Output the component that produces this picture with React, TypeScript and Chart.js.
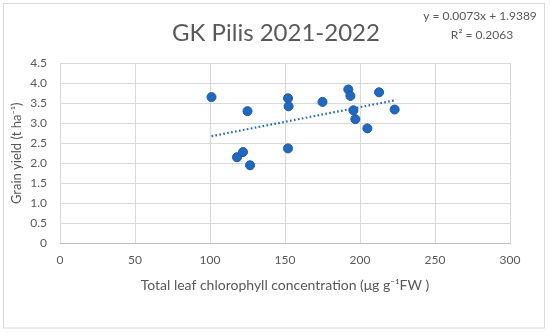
import React, { useEffect, useRef } from "react";
import { Chart, registerables } from "chart.js";

Chart.register(...registerables);

const chlorophyll = [101, 125, 152, 152.4, 118, 122, 126.7, 152, 175, 192.2, 193.6, 195.6, 196.9, 204.9, 212.7, 223.1];
const grainYield = [3.65, 3.3, 3.62, 3.42, 2.15, 2.28, 1.95, 2.37, 3.53, 3.84, 3.68, 3.32, 3.1, 2.87, 3.77, 3.34];
const trendX = [101, 223];
const trendY = [2.676, 3.567];
const titleText = "GK Pilis 2021-2022";
const equationLines = ["y = 0.0073x + 1.9389", "R² = 0.2063"];
const xTitle = "Total leaf chlorophyll concentration (μg g⁻¹FW )";
const yTitle = "Grain yield (t ha⁻¹)";

const FONT = "Lato, 'Open Sans', 'DejaVu Sans', sans-serif";
const GRAY = "#595959";
const BLUE = "#1f69c2";

const decorPlugin = {
  id: "decor",
  beforeDraw(chart: any) {
    const ctx = chart.ctx;
    ctx.save();
    ctx.fillStyle = "#ffffff";
    ctx.fillRect(0, 0, chart.width, chart.height);
    ctx.strokeStyle = "#d9d9d9";
    ctx.lineWidth = 1;
    ctx.strokeRect(3.5, 3.5, 541, 324.5);
    ctx.restore();
  },
  afterDraw(chart: any) {
    const ctx = chart.ctx;
    const area = chart.chartArea;
    ctx.save();
    ctx.fillStyle = GRAY;
    ctx.textAlign = "center";
    ctx.textBaseline = "middle";
    ctx.font = `24px ${FONT}`;
    ctx.fillText(titleText, 276, 33);
    ctx.font = `12px ${FONT}`;
    ctx.fillText(equationLines[0], 480, 16);
    ctx.fillText(equationLines[1], 482, 35);
    ctx.font = `14px ${FONT}`;
    ctx.fillText(xTitle, (area.left + area.right) / 2, 285);
    ctx.font = `13px ${FONT}`;
    ctx.translate(17, (area.top + area.bottom) / 2);
    ctx.rotate(-Math.PI / 2);
    ctx.fillText(yTitle, 0, 0);
    ctx.restore();
  },
};

export default function App() {
  const ref = useRef<HTMLCanvasElement | null>(null);
  useEffect(() => {
    if (!ref.current) return;
    const points = chlorophyll.map((x, i) => ({ x, y: grainYield[i] }));
    const trend = trendX.map((x, i) => ({ x, y: trendY[i] }));
    const chart = new Chart(ref.current, {
      type: "scatter",
      data: {
        datasets: [
          {
            data: points,
            backgroundColor: BLUE,
            borderColor: "#1a5aa8",
            borderWidth: 1,
            pointRadius: 4.5,
          },
          {
            type: "line",
            data: trend,
            borderColor: BLUE,
            borderWidth: 2.2,
            borderDash: [1.6, 2.4],
            borderCapStyle: "butt",
            pointRadius: 0,
            showLine: true,
            fill: false,
          } as any,
        ],
      },
      options: {
        responsive: false,
        animation: false,
        events: [],
        layout: { padding: { top: 63, right: 40, left: 0, bottom: 0 } },
        plugins: {
          legend: { display: false },
          title: { display: false },
          tooltip: { enabled: false },
        },
        scales: {
          x: {
            type: "linear",
            min: 0,
            max: 300,
            afterFit: (s: any) => { s.height = 89.5; },
            ticks: { stepSize: 50, color: GRAY, font: { family: FONT, size: 12 }, padding: 9 },
            grid: { color: "#d9d9d9", lineWidth: 1, drawTicks: false },
            border: { color: "#bfbfbf", width: 1 },
          },
          y: {
            min: 0,
            max: 4.5,
            afterFit: (s: any) => { s.width = 60; },
            ticks: { stepSize: 0.5, color: GRAY, font: { family: FONT, size: 12 }, padding: 13 },
            grid: { color: "#d9d9d9", lineWidth: 1, drawTicks: false },
            border: { display: false },
          },
        },
      },
      plugins: [decorPlugin],
    });
    return () => chart.destroy();
  }, []);
  return (
    <div style={{ position: "fixed", left: 0, top: 0, width: 550, height: 333 }}>
      <canvas ref={ref} width={550} height={333} />
    </div>
  );
}
